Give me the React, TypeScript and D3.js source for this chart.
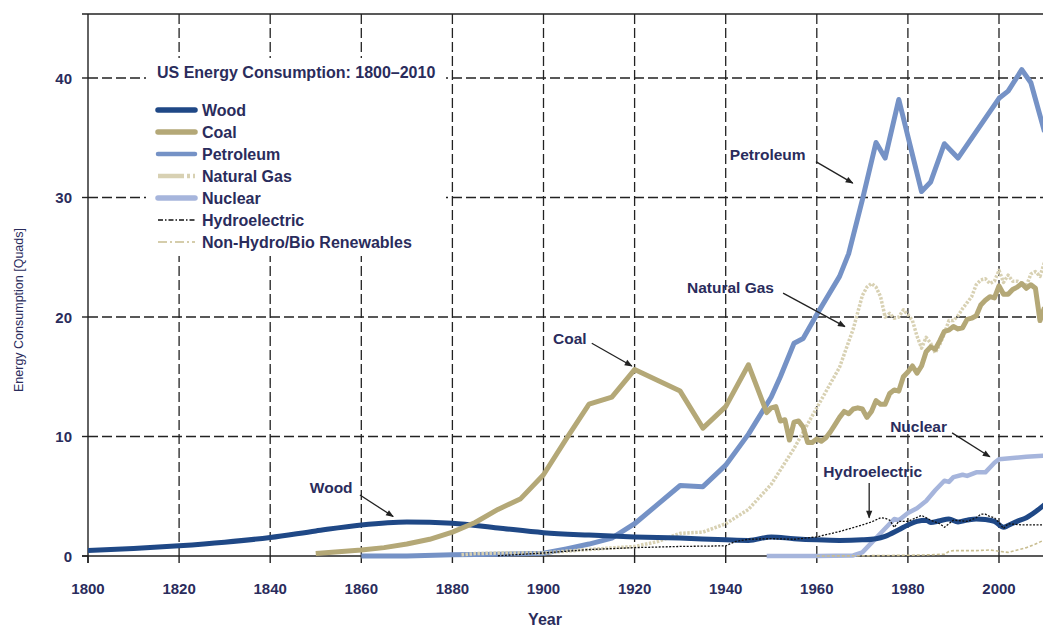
import React from "react";
import * as d3 from "d3";

const W = 1043;
const H = 628;

const xTickYears = [1800, 1820, 1840, 1860, 1880, 1900, 1920, 1940, 1960, 1980, 2000];
const yTickValues = [0, 10, 20, 30, 40];

const woodData: [number, number][] = [
  [1800, 0.45], [1810, 0.62], [1820, 0.85], [1830, 1.15], [1840, 1.55], [1850, 2.1], [1860, 2.6],
  [1870, 2.85], [1880, 2.75], [1890, 2.35], [1900, 1.95], [1910, 1.75], [1920, 1.6], [1930, 1.5],
  [1940, 1.35], [1945, 1.3], [1950, 1.6], [1955, 1.45], [1960, 1.35], [1965, 1.3], [1970, 1.35],
  [1973, 1.45], [1975, 1.65], [1978, 2.2], [1980, 2.6], [1982, 2.9], [1984, 3.0], [1985, 2.8],
  [1987, 2.95], [1989, 3.1], [1991, 2.85], [1993, 3.0], [1995, 3.1], [1997, 3.05], [1999, 2.9],
  [2001, 2.4], [2002, 2.55], [2004, 2.9], [2006, 3.2], [2008, 3.7], [2010, 4.3],
];

const coalData: [number, number][] = [
  [1850, 0.2], [1855, 0.35], [1860, 0.5], [1865, 0.7], [1870, 1.0], [1875, 1.4], [1880, 2.0],
  [1885, 2.8], [1890, 3.9], [1895, 4.8], [1900, 6.8], [1905, 9.8], [1910, 12.7], [1915, 13.3],
  [1920, 15.6], [1925, 14.7], [1930, 13.8], [1935, 10.7], [1940, 12.5], [1945, 16.0], [1947, 14.0],
  [1949, 12.0], [1950, 12.4], [1951, 12.5], [1952, 11.3], [1953, 11.4], [1954, 9.7], [1955, 11.2],
  [1956, 11.3], [1957, 10.8], [1958, 9.5], [1959, 9.5], [1960, 9.8], [1961, 9.6], [1962, 9.9],
  [1963, 10.4], [1964, 11.0], [1965, 11.6], [1966, 12.1], [1967, 11.9], [1968, 12.3], [1969, 12.4],
  [1970, 12.3], [1971, 11.6], [1972, 12.1], [1973, 13.0], [1974, 12.7], [1975, 12.7], [1976, 13.6],
  [1977, 13.9], [1978, 13.8], [1979, 15.0], [1980, 15.4], [1981, 15.9], [1982, 15.3], [1983, 15.9],
  [1984, 17.1], [1985, 17.5], [1986, 17.3], [1987, 18.0], [1988, 18.8], [1989, 18.9], [1990, 19.2],
  [1991, 19.0], [1992, 19.1], [1993, 19.8], [1994, 19.9], [1995, 20.1], [1996, 21.0], [1997, 21.4],
  [1998, 21.7], [1999, 21.6], [2000, 22.6], [2001, 21.9], [2002, 21.9], [2003, 22.3], [2004, 22.5],
  [2005, 22.8], [2006, 22.4], [2007, 22.7], [2008, 22.4], [2009, 19.7], [2010, 20.8],
];

const petroleumData: [number, number][] = [
  [1860, 0.0], [1870, 0.01], [1880, 0.1], [1890, 0.15], [1900, 0.23], [1905, 0.6], [1910, 1.0],
  [1915, 1.5], [1920, 2.7], [1925, 4.3], [1930, 5.9], [1935, 5.8], [1940, 7.6], [1945, 10.2],
  [1950, 13.3], [1952, 15.0], [1955, 17.8], [1957, 18.2], [1960, 20.2], [1965, 23.4], [1967, 25.3],
  [1970, 29.8], [1973, 34.6], [1975, 33.3], [1978, 38.2], [1983, 30.5], [1985, 31.3], [1988, 34.5],
  [1991, 33.3], [2000, 38.3], [2002, 38.9], [2005, 40.7], [2007, 39.6], [2010, 35.5],
];

const naturalGasData: [number, number][] = [
  [1882, 0.1], [1885, 0.2], [1890, 0.25], [1900, 0.25], [1910, 0.55], [1920, 0.8], [1925, 1.2],
  [1930, 1.9], [1935, 2.0], [1940, 2.7], [1945, 3.9], [1950, 6.0], [1955, 9.0], [1960, 12.4],
  [1965, 15.8], [1968, 19.0], [1970, 21.8], [1971, 22.5], [1972, 22.8], [1973, 22.5], [1974, 21.7],
  [1975, 20.0], [1976, 20.3], [1977, 19.9], [1978, 20.0], [1979, 20.6], [1980, 20.2], [1981, 19.7],
  [1982, 18.4], [1983, 17.4], [1984, 18.3], [1985, 17.8], [1986, 17.0], [1987, 17.7], [1988, 18.6],
  [1989, 19.7], [1990, 19.7], [1991, 20.1], [1992, 20.7], [1993, 21.2], [1994, 21.7], [1995, 22.7],
  [1996, 23.1], [1997, 23.2], [1998, 22.8], [1999, 23.0], [2000, 23.9], [2001, 22.9], [2002, 23.5],
  [2003, 23.0], [2004, 23.0], [2005, 22.8], [2006, 22.6], [2007, 23.6], [2008, 23.8], [2009, 23.4],
  [2010, 24.6],
];

const nuclearData: [number, number][] = [
  [1949, 0], [1960, 0], [1968, 0.05], [1970, 0.3], [1972, 1.1], [1974, 1.9], [1976, 2.7],
  [1977, 3.1], [1978, 3.0], [1980, 3.6], [1982, 4.0], [1984, 4.6], [1986, 5.5], [1988, 6.3],
  [1989, 6.2], [1990, 6.6], [1992, 6.8], [1993, 6.7], [1995, 7.0], [1997, 7.0], [1999, 7.8],
  [2000, 8.1], [2003, 8.2], [2006, 8.3], [2010, 8.4],
];

const hydroData: [number, number][] = [
  [1890, 0.02], [1900, 0.25], [1910, 0.54], [1920, 0.7], [1930, 0.8], [1940, 0.85], [1942, 1.2],
  [1945, 1.4], [1950, 1.45], [1955, 1.4], [1960, 1.6], [1965, 2.05], [1970, 2.6], [1972, 2.85],
  [1974, 3.2], [1975, 3.15], [1976, 3.0], [1977, 2.4], [1978, 2.9], [1980, 2.9], [1983, 3.4],
  [1985, 3.0], [1987, 2.7], [1988, 2.4], [1990, 3.0], [1993, 2.9], [1995, 3.2], [1996, 3.5],
  [1997, 3.5], [1998, 3.3], [1999, 3.2], [2000, 2.8], [2001, 2.3], [2002, 2.7], [2005, 2.6],
  [2010, 2.6],
];

const renewablesData: [number, number][] = [
  [1960, 0.0], [1970, 0.02], [1980, 0.06], [1985, 0.1], [1988, 0.15], [1989, 0.38], [1990, 0.45],
  [1995, 0.45], [1998, 0.5], [2000, 0.4], [2002, 0.3], [2004, 0.5], [2006, 0.7], [2008, 1.0],
  [2010, 1.35],
];

const legendLabels = [
  "Wood", "Coal", "Petroleum", "Natural Gas", "Nuclear", "Hydroelectric", "Non-Hydro/Bio Renewables",
];

// annotation: label, text anchor point (year, value), arrow start, arrow end
const annotationLabels = ["Petroleum", "Natural Gas", "Coal", "Wood", "Nuclear", "Hydroelectric"];
const annotationText: [number, number][] = [
  [1940.9, 33.56], [1931.5, 22.5], [1902.1, 18.24], [1848.7, 5.77], [1976.1, 10.8], [1961.4, 7.03],
];
const annotationFrom: [number, number][] = [
  [1959.8, 33.0], [1952.6, 22.0], [1910.6, 17.8], [1859.7, 5.1], [1989.7, 10.3], [1971.5, 6.1],
];
const annotationTo: [number, number][] = [
  [1967.9, 31.2], [1966.2, 19.2], [1919.4, 15.9], [1867.0, 3.3], [1998.0, 8.3], [1971.5, 3.2],
];

const TEXT = "#2a2c5c";
const FONT = "'Liberation Sans', Arial, sans-serif";

type Style = {
  color: string;
  width: number;
  dash?: string;
  legendDash?: string;
  legendWidth: number;
  curve: d3.CurveFactory;
};

const styles: Record<string, Style> = {
  Wood: { color: "#1f4886", width: 5, legendWidth: 5.5, curve: d3.curveMonotoneX },
  Coal: { color: "#b4a877", width: 5, legendWidth: 5.5, curve: d3.curveLinear },
  Petroleum: { color: "#7592c6", width: 5, legendWidth: 4.5, curve: d3.curveLinear },
  "Natural Gas": { color: "#d8d1b3", width: 3.5, dash: "2.5,1.5", legendDash: "26,3,3,3", legendWidth: 4.5, curve: d3.curveLinear },
  Nuclear: { color: "#a6b5dc", width: 4.5, legendWidth: 5.5, curve: d3.curveLinear },
  Hydroelectric: { color: "#111", width: 1.3, dash: "2,1.5", legendDash: "5,2,1.5,2", legendWidth: 1.5, curve: d3.curveLinear },
  "Non-Hydro/Bio Renewables": { color: "#c8bd90", width: 1.6, dash: "3,2", legendDash: "9,3,2,3", legendWidth: 1.6, curve: d3.curveLinear },
};

const seriesData: Record<string, [number, number][]> = {
  Wood: woodData,
  Coal: coalData,
  Petroleum: petroleumData,
  "Natural Gas": naturalGasData,
  Nuclear: nuclearData,
  Hydroelectric: hydroData,
  "Non-Hydro/Bio Renewables": renewablesData,
};

const drawOrder = ["Petroleum", "Natural Gas", "Nuclear", "Wood", "Coal", "Hydroelectric", "Non-Hydro/Bio Renewables"];

export default function App() {
  const left = 88;
  const top = 14;
  const bottom = 556;
  const x = d3.scaleLinear().domain([1800, 2010]).range([left, left + 210 * 4.555]);
  const y = d3.scaleLinear().domain([0, 10]).range([bottom, bottom - 119.5]);
  const right = W;

  const gridDash = "10,4";

  const lineGen = (curve: d3.CurveFactory) =>
    d3.line<[number, number]>().x((d) => x(d[0])).y((d) => y(d[1])).curve(curve);

  const legendX = 158;
  const legendRows = [110, 132, 154, 176, 198, 220, 242];

  return (
    <svg
      width={W}
      height={H}
      style={{ position: "absolute", left: 0, top: 0, background: "#fff" }}
      fontFamily={FONT}
    >
      <defs>
        <marker id="arr" viewBox="0 0 10 10" refX="9" refY="5" markerWidth="7" markerHeight="6" orient="auto">
          <path d="M0,1L10,5L0,9z" fill="#222" />
        </marker>
        <clipPath id="plot">
          <rect x={left} y={top} width={right - left} height={bottom - top + 6} />
        </clipPath>
      </defs>

      {/* grid */}
      {xTickYears.slice(1).map((t) => (
        <line key={"vg" + t} x1={x(t)} x2={x(t)} y1={top} y2={bottom} stroke="#222" strokeWidth={1.3} strokeDasharray={gridDash} />
      ))}
      {yTickValues.slice(1).map((v) => (
        <line key={"hg" + v} x1={left} x2={right} y1={y(v)} y2={y(v)} stroke="#222" strokeWidth={1.3} strokeDasharray={gridDash} />
      ))}

      {/* legend background */}
      <rect x={146} y={58} width={300} height={198} fill="#fff" />

      {/* frame / axes */}
      <line x1={left - 6} x2={right} y1={top} y2={top} stroke="#222" strokeWidth={1.4} />
      <line x1={left} x2={left} y1={top} y2={bottom + 7} stroke="#222" strokeWidth={1.4} />
      <line x1={left - 6} x2={right} y1={bottom} y2={bottom} stroke="#222" strokeWidth={1.4} />
      {yTickValues.map((v) => (
        <g key={"yt" + v}>
          <line x1={left - 6} x2={left} y1={y(v)} y2={y(v)} stroke="#222" strokeWidth={1.4} />
          <text x={72} y={y(v) + 5.5} textAnchor="end" fontSize={15} fontWeight="bold" fill={TEXT}>
            {v}
          </text>
        </g>
      ))}
      {xTickYears.map((t) => (
        <g key={"xt" + t}>
          <line x1={x(t)} x2={x(t)} y1={bottom} y2={bottom + 7} stroke="#222" strokeWidth={1.4} />
          <text x={x(t)} y={594} textAnchor="middle" fontSize={15} fontWeight="bold" fill={TEXT}>
            {t}
          </text>
        </g>
      ))}

      {/* series */}
      <g clipPath="url(#plot)">
        {drawOrder.map((name) => {
          const s = styles[name];
          return (
            <path
              key={name}
              d={lineGen(s.curve)(seriesData[name]) || ""}
              fill="none"
              stroke={s.color}
              strokeWidth={s.width}
              strokeDasharray={s.dash}
              strokeLinejoin="round"
            />
          );
        })}
      </g>

      {/* axis titles */}
      <text x={545} y={625} textAnchor="middle" fontSize={16} fontWeight="bold" fill={TEXT}>
        Year
      </text>
      <text transform="translate(23,310) rotate(-90)" textAnchor="middle" fontSize={12.5} fill={TEXT}>
        Energy Consumption [Quads]
      </text>

      {/* legend */}
      <text x={157} y={77.5} fontSize={16} fontWeight="bold" fill={TEXT}>
        US Energy Consumption: 1800–2010
      </text>
      {legendLabels.map((name, i) => {
        const s = styles[name];
        const yy = legendRows[i];
        return (
          <g key={"lg" + name}>
            <line
              x1={legendX}
              x2={legendX + 37}
              y1={yy}
              y2={yy}
              stroke={s.color}
              strokeWidth={s.legendWidth}
              strokeDasharray={s.legendDash}
              strokeLinecap={s.legendDash ? "butt" : "round"}
            />
            <text x={202} y={yy + 5.5} fontSize={16} fontWeight="bold" fill={TEXT}>
              {name}
            </text>
          </g>
        );
      })}

      {/* annotations */}
      {annotationLabels.map((label, i) => (
        <g key={"an" + label}>
          <text x={x(annotationText[i][0])} y={y(annotationText[i][1]) + 5.5} fontSize={15.5} fontWeight="bold" fill={TEXT}>
            {label}
          </text>
          <line
            x1={x(annotationFrom[i][0])}
            y1={y(annotationFrom[i][1])}
            x2={x(annotationTo[i][0])}
            y2={y(annotationTo[i][1])}
            stroke="#222"
            strokeWidth={1.3}
            markerEnd="url(#arr)"
          />
        </g>
      ))}
    </svg>
  );
}
